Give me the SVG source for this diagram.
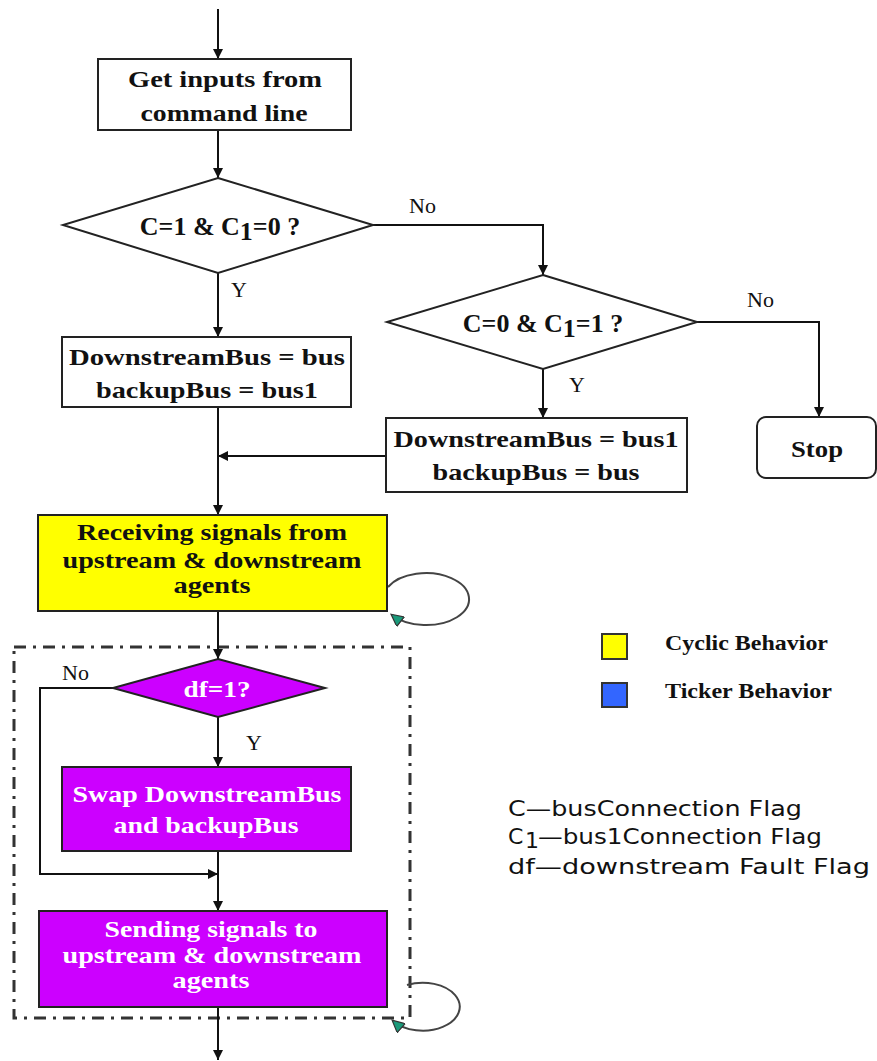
<svg xmlns="http://www.w3.org/2000/svg" width="877" height="1061" viewBox="0 0 877 1061">
  <style>
    .box { stroke: #222; stroke-width: 2; }
    .plain { fill: #fff; }
    .cyc { fill: #ffff00; }
    .tick { fill: #cc00ff; }
    .t { font-family: "Liberation Serif", "Times New Roman", serif; font-weight: bold; font-size: 24px; text-anchor: middle; fill: #111; }
    .q { font-size: 26px; }
    .tw { fill: #fff; }
    .lbl { font-family: "Liberation Serif", "Times New Roman", serif; font-size: 22px; fill: #111; }
    .leg { font-family: "Liberation Serif", "Times New Roman", serif; font-weight: bold; font-size: 21px; fill: #111; }
    .flag { font-family: "DejaVu Sans", "Liberation Sans", sans-serif; font-size: 22px; fill: #111; }
    .wire { fill: none; stroke: #111; stroke-width: 2; }
    .loop { fill: none; stroke: #444; stroke-width: 2; }
  </style>
  <defs>
    <marker id="arr" viewBox="0 0 10 10" refX="10" refY="5" markerWidth="10" markerHeight="10" markerUnits="userSpaceOnUse" orient="auto">
      <path d="M0,0 L10,5 L0,10 z" fill="#111"/>
    </marker>
    <marker id="tarr" viewBox="0 0 10 10" refX="9" refY="5" markerWidth="14" markerHeight="12" markerUnits="userSpaceOnUse" orient="auto">
      <path d="M0,0 L10,5 L0,10 z" fill="#1a9a7a" stroke="#333" stroke-width="1"/>
    </marker>
  </defs>

  <rect width="877" height="1061" fill="#fff"/>

  <!-- grouping frame for the ticker section -->
  <rect id="ticker-frame" x="14" y="647" width="396" height="371" fill="none" stroke="#333" stroke-width="3" stroke-dasharray="12,7,3,7"/>

  <g id="connectors">
    <path class="wire" d="M218,9 V59" marker-end="url(#arr)"/>
    <path class="wire" d="M218,130 V178" marker-end="url(#arr)"/>
    <path class="wire" d="M373,225 H543 V275" marker-end="url(#arr)"/>
    <path class="wire" d="M218,273 V337" marker-end="url(#arr)"/>
    <path class="wire" d="M697,322 H819 V417" marker-end="url(#arr)"/>
    <path class="wire" d="M543,369 V418" marker-end="url(#arr)"/>
    <path class="wire" d="M218,407 V515" marker-end="url(#arr)"/>
    <path class="wire" d="M386,456 H218" marker-end="url(#arr)"/>
    <path class="wire" d="M218,611 V659" marker-end="url(#arr)"/>
    <path class="wire" d="M113,688 H40 V874 H218" marker-end="url(#arr)"/>
    <path class="wire" d="M218,717 V767" marker-end="url(#arr)"/>
    <path class="wire" d="M218,851 V911" marker-end="url(#arr)"/>
    <path class="wire" d="M218,1007 V1060" marker-end="url(#arr)"/>
    <path class="loop" d="M388,587 A43,26 0 1 1 392,615" marker-end="url(#tarr)"/>
    <path class="loop" d="M407,985 A37,24 0 1 1 393,1021" marker-end="url(#tarr)"/>
    <text class="lbl" x="409" y="213">No</text>
    <text class="lbl" x="747" y="307">No</text>
    <text class="lbl" x="231" y="297">Y</text>
    <text class="lbl" x="569" y="392">Y</text>
    <text class="lbl" x="62" y="680">No</text>
    <text class="lbl" x="246" y="750">Y</text>
  </g>

  <g id="get-inputs">
    <rect class="box plain" x="98" y="59" width="253" height="71"/>
    <text class="t" x="225" y="87" textLength="194" lengthAdjust="spacingAndGlyphs">Get inputs from</text>
    <text class="t" x="224" y="121" textLength="167" lengthAdjust="spacingAndGlyphs">command line</text>
  </g>

  <g id="decision-1">
    <polygon class="box plain" points="218,178 373,225 218,273 63,225"/>
    <text class="t q" x="220" y="235">C=1 &amp; C<tspan dy="5">1</tspan><tspan dy="-5">=0 ?</tspan></text>
  </g>

  <g id="decision-2">
    <polygon class="box plain" points="543,275 697,322 543,369 387,322"/>
    <text class="t q" x="543" y="332">C=0 &amp; C<tspan dy="5">1</tspan><tspan dy="-5">=1 ?</tspan></text>
  </g>

  <g id="assign-a">
    <rect class="box plain" x="62" y="337" width="289" height="70"/>
    <text class="t" x="207" y="365" textLength="276" lengthAdjust="spacingAndGlyphs">DownstreamBus = bus</text>
    <text class="t" x="207" y="398" textLength="222" lengthAdjust="spacingAndGlyphs">backupBus = bus1</text>
  </g>

  <g id="assign-b">
    <rect class="box plain" x="386" y="418" width="301" height="74"/>
    <text class="t" x="536" y="447" textLength="285" lengthAdjust="spacingAndGlyphs">DownstreamBus = bus1</text>
    <text class="t" x="536" y="480" textLength="207" lengthAdjust="spacingAndGlyphs">backupBus = bus</text>
  </g>

  <g id="stop">
    <rect class="box plain" x="757" y="417" width="119" height="61" rx="9"/>
    <text class="t" x="817" y="457" textLength="52" lengthAdjust="spacingAndGlyphs">Stop</text>
  </g>

  <g id="receiving">
    <rect class="box cyc" x="38" y="515" width="349" height="96"/>
    <text class="t" x="212" y="540" textLength="270" lengthAdjust="spacingAndGlyphs">Receiving signals from</text>
    <text class="t" x="212" y="568" textLength="299" lengthAdjust="spacingAndGlyphs">upstream &amp; downstream</text>
    <text class="t" x="212" y="593" textLength="77" lengthAdjust="spacingAndGlyphs">agents</text>
  </g>

  <g id="decision-df">
    <polygon class="box tick" points="218,659 325,688 218,717 113,688"/>
    <text class="t tw" x="217" y="697" textLength="67" lengthAdjust="spacingAndGlyphs">df=1?</text>
  </g>

  <g id="swap">
    <rect class="box tick" x="62" y="767" width="289" height="84"/>
    <text class="t tw" x="207" y="802" textLength="269" lengthAdjust="spacingAndGlyphs">Swap DownstreamBus</text>
    <text class="t tw" x="206" y="833" textLength="185" lengthAdjust="spacingAndGlyphs">and backupBus</text>
  </g>

  <g id="sending">
    <rect class="box tick" x="39" y="911" width="348" height="96"/>
    <text class="t tw" x="211" y="937" textLength="213" lengthAdjust="spacingAndGlyphs">Sending signals to</text>
    <text class="t tw" x="212" y="963" textLength="299" lengthAdjust="spacingAndGlyphs">upstream &amp; downstream</text>
    <text class="t tw" x="211" y="988" textLength="77" lengthAdjust="spacingAndGlyphs">agents</text>
  </g>

  <g id="legend">
    <rect x="602" y="634" width="25" height="25" fill="#ffff00" stroke="#333" stroke-width="2"/>
    <text class="leg" x="665" y="650" textLength="163" lengthAdjust="spacingAndGlyphs">Cyclic Behavior</text>
    <rect x="602" y="683" width="25" height="24" fill="#3366ff" stroke="#333" stroke-width="2"/>
    <text class="leg" x="665" y="698" textLength="167" lengthAdjust="spacingAndGlyphs">Ticker Behavior</text>
  </g>

  <g id="flags">
    <text class="flag" x="508" y="816" textLength="294" lengthAdjust="spacingAndGlyphs">C—busConnection Flag</text>
    <text class="flag" x="508" y="844">C</text>
    <text class="flag" x="525" y="848" font-size="11">1</text>
    <text class="flag" x="538" y="844" textLength="284" lengthAdjust="spacingAndGlyphs">—bus1Connection Flag</text>
    <text class="flag" x="508" y="874" textLength="362" lengthAdjust="spacingAndGlyphs">df—downstream Fault Flag</text>
  </g>
</svg>
